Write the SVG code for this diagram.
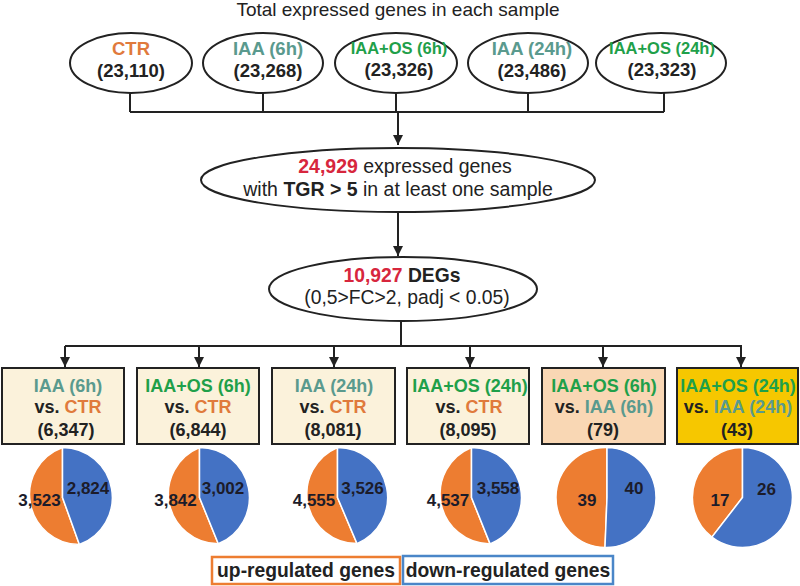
<svg xmlns="http://www.w3.org/2000/svg" width="800" height="586" viewBox="0 0 800 586">
<defs>
<marker id="arr" viewBox="0 0 10 10" refX="10" refY="5" markerWidth="10" markerHeight="10" markerUnits="userSpaceOnUse" orient="auto">
<path d="M0,0 L10,5 L0,10 Z" fill="#222"/>
</marker>
<style>
text{font-family:"Liberation Sans",Arial,sans-serif;text-anchor:middle;fill:#222}
.b{font-weight:bold}
.ctr{fill:#E07A3C}
.iaa{fill:#5A9A8E}
.os{fill:#1FA04A}
.red{fill:#D7263D}
.node{fill:#fff;stroke:#222;stroke-width:2}
.box{stroke:#222;stroke-width:2}
.line{fill:none;stroke:#222;stroke-width:2}
.up{fill:#ED7D31;stroke:#fff;stroke-width:1.5}
.dn{fill:#4472C4;stroke:#fff;stroke-width:1.5}
.pl{font-family:"Liberation Sans",Arial,sans-serif;font-weight:bold;font-size:17px;fill:#1c1c2a}
</style>
</defs>
<rect width="800" height="586" fill="#fff"/>
<text x="398" y="16" font-size="19">Total expressed genes in each sample</text>

<g id="connectors">
<path class="line" d="M130,92 V112 M263,92 V112 M396,92 V112 M528,92 V112 M664,92 V112 M130,112 H664"/>
<path class="line" d="M398,112 V145" marker-end="url(#arr)"/>
<path class="line" d="M398,212 V256" marker-end="url(#arr)"/>
<path class="line" d="M401,321 V346 M65,346 H742"/>
<path class="line" d="M65,346 V367" marker-end="url(#arr)"/>
<path class="line" d="M199,346 V367" marker-end="url(#arr)"/>
<path class="line" d="M334,346 V367" marker-end="url(#arr)"/>
<path class="line" d="M470,346 V367" marker-end="url(#arr)"/>
<path class="line" d="M603,346 V367" marker-end="url(#arr)"/>
<path class="line" d="M741,346 V367" marker-end="url(#arr)"/>
</g>

<g id="n-ctr">
<ellipse class="node" cx="131" cy="63" rx="61" ry="30"/>
<text x="131" y="55" font-size="18.5" class="b ctr">CTR</text>
<text x="131" y="77" font-size="18.5" class="b">(23,110)</text>
</g>
<g id="n-iaa6">
<ellipse class="node" cx="263" cy="63" rx="60" ry="30"/>
<text x="268" y="55" font-size="18.5" class="b iaa">IAA (6h)</text>
<text x="268" y="77" font-size="18.5" class="b">(23,268)</text>
</g>
<g id="n-iaaos6">
<ellipse class="node" cx="396" cy="63" rx="61" ry="30"/>
<text x="399" y="54" font-size="16.5" class="b os">IAA+OS (6h)</text>
<text x="399" y="76" font-size="18.5" class="b">(23,326)</text>
</g>
<g id="n-iaa24">
<ellipse class="node" cx="528" cy="63" rx="60" ry="30"/>
<text x="532" y="55" font-size="18.5" class="b iaa">IAA (24h)</text>
<text x="532" y="77" font-size="18.5" class="b">(23,486)</text>
</g>
<g id="n-iaaos24">
<ellipse class="node" cx="661" cy="63" rx="65" ry="30"/>
<text x="662" y="54" font-size="16.5" class="b os">IAA+OS (24h)</text>
<text x="662" y="76" font-size="18.5" class="b">(23,323)</text>
</g>

<g id="n-expressed">
<ellipse class="node" cx="398" cy="180" rx="197" ry="32"/>
<text x="405" y="173" font-size="19.5"><tspan class="b red">24,929</tspan> expressed genes</text>
<text x="398" y="196" font-size="19.5">with <tspan class="b">TGR &gt; 5</tspan> in at least one sample</text>
</g>

<g id="n-degs">
<ellipse class="node" cx="403" cy="289" rx="134" ry="32"/>
<text x="402" y="282" font-size="19.3" class="b"><tspan class="red">10,927</tspan> DEGs</text>
<text x="407" y="304" font-size="19.3">(0,5&gt;FC&gt;2, padj &lt; 0.05)</text>
</g>

<g id="b1">
<rect class="box" x="2" y="368" width="122" height="76" fill="#FBF2DB"/>
<text x="68" y="392" font-size="18" class="b iaa">IAA (6h)</text>
<text x="68" y="413" font-size="18" class="b">vs. <tspan class="ctr">CTR</tspan></text>
<text x="66" y="436" font-size="18" class="b">(6,347)</text>
</g>
<g id="b2">
<rect class="box" x="137" y="368" width="122" height="76" fill="#FBF2DB"/>
<text x="198" y="392" font-size="18" class="b os">IAA+OS (6h)</text>
<text x="198" y="413" font-size="18" class="b">vs. <tspan class="ctr">CTR</tspan></text>
<text x="198" y="436" font-size="18" class="b">(6,844)</text>
</g>
<g id="b3">
<rect class="box" x="272" y="368" width="123" height="76" fill="#FBF2DB"/>
<text x="334" y="392" font-size="18" class="b iaa">IAA (24h)</text>
<text x="333" y="413" font-size="18" class="b">vs. <tspan class="ctr">CTR</tspan></text>
<text x="333" y="436" font-size="18" class="b">(8,081)</text>
</g>
<g id="b4">
<rect class="box" x="407" y="368" width="122" height="76" fill="#FBF2DB"/>
<text x="470" y="392" font-size="18" class="b os">IAA+OS (24h)</text>
<text x="469" y="413" font-size="18" class="b">vs. <tspan class="ctr">CTR</tspan></text>
<text x="468" y="436" font-size="18" class="b">(8,095)</text>
</g>
<g id="b5">
<rect class="box" x="542" y="368" width="123" height="76" fill="#F9D7B4"/>
<text x="604" y="392" font-size="18" class="b os">IAA+OS (6h)</text>
<text x="604" y="413" font-size="18" class="b">vs. <tspan class="iaa">IAA (6h)</tspan></text>
<text x="603" y="436" font-size="18" class="b">(79)</text>
</g>
<g id="b6">
<rect class="box" x="677" y="368" width="121" height="76" fill="#F6C700"/>
<text x="738" y="392" font-size="18" class="b os">IAA+OS (24h)</text>
<text x="738" y="413" font-size="18" class="b">vs. <tspan class="iaa">IAA (24h)</tspan></text>
<text x="737" y="436" font-size="18" class="b">(43)</text>
</g>

<g id="pie1">
<path class="up" d="M62.5,497.5 L79.4,544.5 A50,50 0 0 1 62.5,447.5 Z"/>
<path class="dn" d="M62.5,497.5 L62.5,447.5 A50,50 0 0 1 79.4,544.5 Z"/>
<text class="pl" x="39.5" y="506">3,523</text>
<text class="pl" x="88" y="494">2,824</text>
</g>
<g id="pie2">
<path class="up" d="M199.5,497.5 L218.3,543.8 A50,50 0 0 1 199.5,447.5 Z"/>
<path class="dn" d="M199.5,497.5 L199.5,447.5 A50,50 0 0 1 218.3,543.8 Z"/>
<text class="pl" x="175.5" y="506">3,842</text>
<text class="pl" x="223" y="494">3,002</text>
</g>
<g id="pie3">
<path class="up" d="M337.5,497.5 L357,543.6 A50,50 0 0 1 337.5,447.5 Z"/>
<path class="dn" d="M337.5,497.5 L337.5,447.5 A50,50 0 0 1 357,543.6 Z"/>
<text class="pl" x="314" y="506">4,555</text>
<text class="pl" x="362.5" y="494">3,526</text>
</g>
<g id="pie4">
<path class="up" d="M471.5,497.5 L490.1,543.9 A50,50 0 0 1 471.5,447.5 Z"/>
<path class="dn" d="M471.5,497.5 L471.5,447.5 A50,50 0 0 1 490.1,543.9 Z"/>
<text class="pl" x="448" y="506">4,537</text>
<text class="pl" x="498" y="494">3,558</text>
</g>
<g id="pie5">
<path class="up" d="M607,497.5 L605,547.5 A50,50 0 0 1 607,447.5 Z"/>
<path class="dn" d="M607,497.5 L607,447.5 A50,50 0 1 1 605,547.5 Z"/>
<text class="pl" x="587" y="506">39</text>
<text class="pl" x="634" y="494">40</text>
</g>
<g id="pie6">
<path class="up" d="M742.5,497.5 L711.9,537.1 A50,50 0 0 1 742.5,447.5 Z"/>
<path class="dn" d="M742.5,497.5 L742.5,447.5 A50,50 0 1 1 711.9,537.1 Z"/>
<text class="pl" x="720" y="506">17</text>
<text class="pl" x="766.5" y="495">26</text>
</g>

<g id="legend-up">
<rect x="212" y="557" width="188" height="27" fill="#fff" stroke="#ED7D31" stroke-width="2.5"/>
<text x="306" y="577" font-size="19.3" class="b">up-regulated genes</text>
</g>
<g id="legend-down">
<rect x="403" y="556" width="210" height="28" fill="#fff" stroke="#4A86C8" stroke-width="2.5"/>
<text x="508" y="577" font-size="19.3" class="b">down-regulated genes</text>
</g>
</svg>
